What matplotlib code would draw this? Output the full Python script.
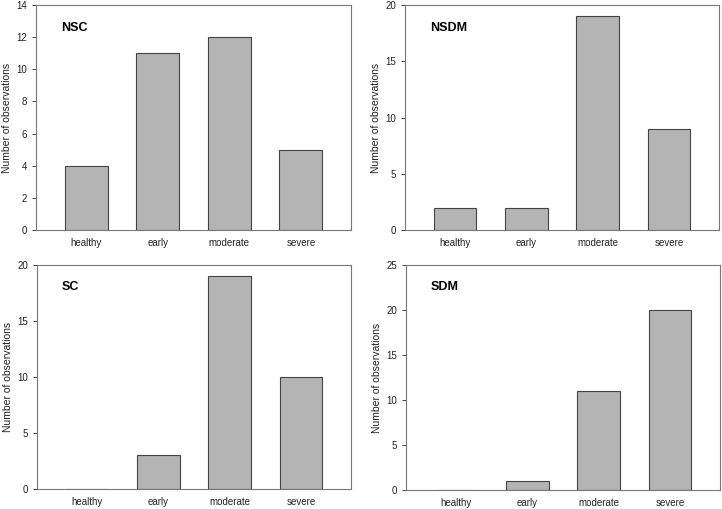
import matplotlib
matplotlib.use("Agg")
import matplotlib.pyplot as plt
import numpy as np

plt.rcParams['font.family'] = ['Liberation Sans', 'DejaVu Sans']

categories = ["healthy", "early", "moderate", "severe"]
nsc = [4, 11, 12, 5]
nsdm = [2, 2, 19, 9]
sc = [0, 3, 19, 10]
sdm = [0, 1, 11, 20]

panels = [
    ("NSC", nsc, 14, 2),
    ("NSDM", nsdm, 20, 5),
    ("SC", sc, 20, 5),
    ("SDM", sdm, 25, 5),
]

# axes boxes in pixels: left, top, right, bottom
boxes = [
    (36, 5, 351, 230),
    (405, 5, 719, 230),
    (37, 265, 351, 489),
    (406, 265, 720, 490),
]

W, H = 722, 509
fig = plt.figure(figsize=(W / 100, H / 100), dpi=100)

x = np.arange(len(categories))
for (name, vals, ymax, step), (l, t, r, b) in zip(panels, boxes):
    ax = fig.add_axes([l / W, 1 - b / H, (r - l) / W, (b - t) / H])
    ax.bar(x, vals, width=0.6, color="#b4b4b4", edgecolor="#444444", linewidth=0.8)
    ax.set_xlim(-0.7, 3.7)
    ax.set_ylim(0, ymax)
    ax.set_yticks(np.arange(0, ymax + 1, step))
    ax.set_xticks(x)
    ax.set_xticklabels(categories)
    ax.tick_params(axis="x", length=0, labelsize=7, pad=6, colors="#222222")
    ax.tick_params(axis="y", length=3, width=0.6, labelsize=7, colors="#222222", direction="out")
    for s in ax.spines.values():
        s.set_color("#777777")
        s.set_linewidth(0.8)
    ax.set_ylabel("Number of observations", fontsize=7.5, color="#222222", labelpad=3)
    ax.text(0.08, 0.9, name, transform=ax.transAxes, fontsize=9, fontweight="bold",
            va="center", ha="left")

fig.savefig("out.png", dpi=100)
